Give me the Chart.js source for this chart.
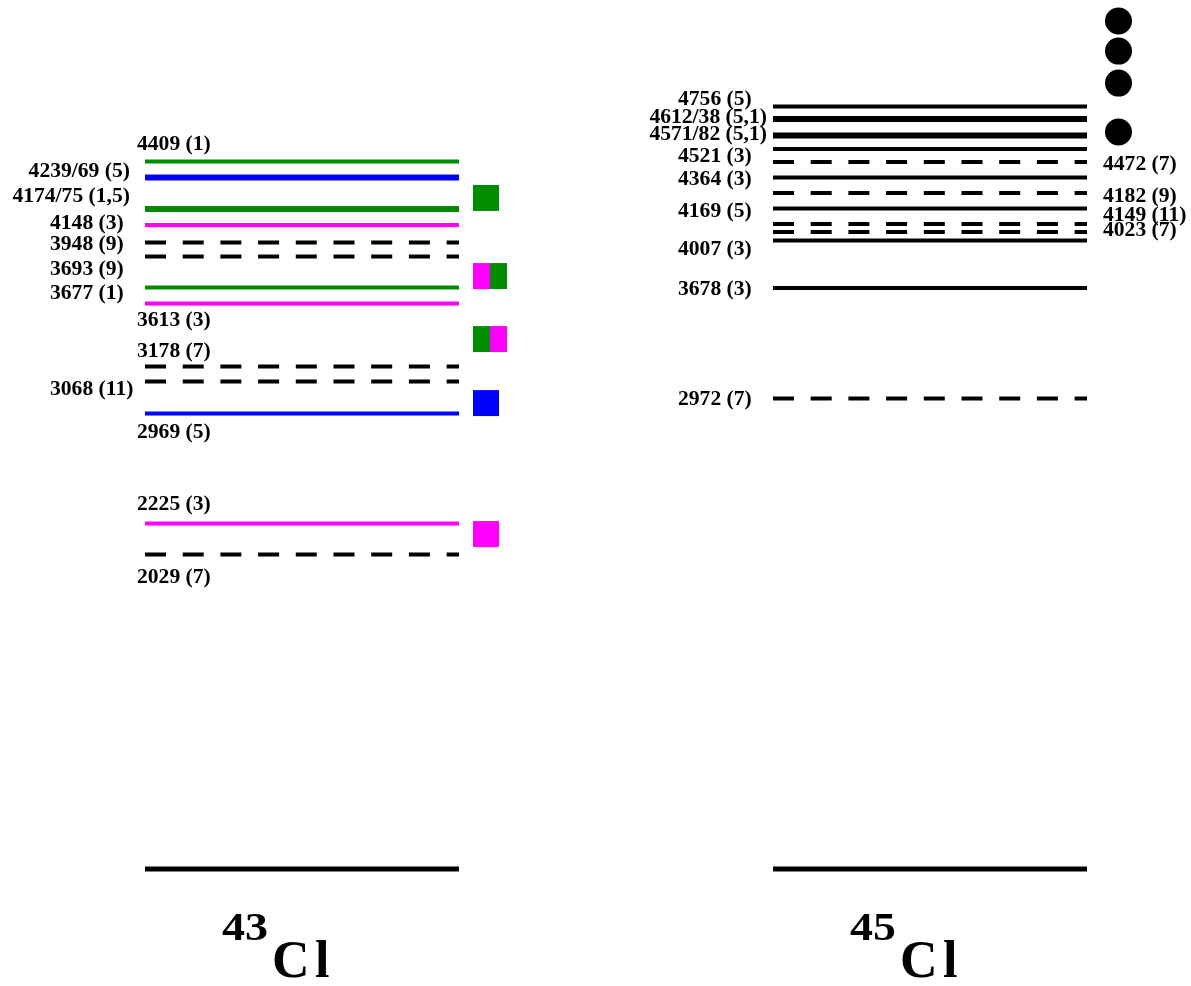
<!DOCTYPE html>
<html>
<head>
<meta charset="utf-8">
<script src="https://cdn.jsdelivr.net/npm/chart.js@4"></script>
<style>
  html, body { margin: 0; padding: 0; background: #fff; }
</style>
</head>
<body>
<canvas id="plots" width="1191" height="986"></canvas>
<script>
// 43Cl levels: label text, energy (keV) where the reference draws each line, line kind
const cl43Text  = ['', '2029 (7)', '2225 (3)', '2969 (5)', '3068 (11)', '3178 (7)', '3613 (3)', '3677 (1)', '3693 (9)', '3948 (9)', '4148 (3)', '4174/75 (1,5)', '4239/69 (5)', '4409 (1)']
const cl43Drawn = [0, 1966, 2159, 2847, 3047, 3141, 3534, 3634, 3828, 3916, 4025, 4125, 4322, 4422]
const cl43Kind  = ['gs', 'dash', 'magenta', 'blue', 'dash', 'dash', 'magenta', 'green', 'dash', 'dash', 'magenta', 'green2', 'blue2', 'green']
const cl43LabelAt = [0, 1831, 2287, 2737, 3006, 3244, 3437, 3606, 3756, 3912, 4044, 4212, 4369, 4537]
const cl43Side  = ['', 'below', 'above', 'below', 'left', 'above', 'below', 'left', 'left', 'left', 'left', 'leftWide', 'leftWide', 'above']

// coloured boxes beside 43Cl
const cl43BoxAt = [4194, 3706, 3312, 2912, 2094]
const cl43BoxColors = [['green'], ['magenta', 'green'], ['green', 'magenta'], ['blue'], ['magenta']]

// 45Cl levels
const cl45Text  = ['', '2972 (7)', '3678 (3)', '4007 (3)', '4023 (7)', '4149 (11)', '4169 (5)', '4182 (9)', '4364 (3)', '4472 (7)', '4521 (3)', '4571/82 (5,1)', '4612/38 (5,1)', '4756 (5)']
const cl45Drawn = [0, 2941, 3631, 3928, 3981, 4031, 4128, 4225, 4322, 4419, 4500, 4584, 4688, 4766]
const cl45Kind  = ['gs', 'dash', 'black', 'black', 'dash', 'dash', 'black', 'dash', 'black', 'dash', 'black', 'black2', 'black2', 'black']
const cl45LabelAt = [0, 2944, 3631, 3881, 4000, 4094, 4119, 4212, 4319, 4412, 4462, 4600, 4706, 4819]
const cl45Side  = ['', 'left', 'left', 'left', 'right', 'right', 'left', 'right', 'left', 'right', 'left', 'leftWide', 'leftWide', 'left']

// dots beside 45Cl
const cl45DotAt = [5300, 5112, 4912, 4606]

const colors = { green: '#008b00', magenta: '#ff00ff', blue: '#0000ff', black: '#000000' }

const kinds = {
  gs:      { color: '#000', width: 5 },
  dash:    { color: '#000', width: 4, dash: [21, 16.7] },
  black:   { color: '#000', width: 4 },
  black2:  { color: '#000', width: 6 },
  green:   { color: colors.green, width: 4 },
  green2:  { color: colors.green, width: 6 },
  magenta: { color: colors.magenta, width: 4 },
  blue2:   { color: colors.blue, width: 6 },
  blue:    { color: colors.blue, width: 4 }
}

// one scheme is one x unit wide
const schemes = [
  { x0: 0, text: cl43Text, drawn: cl43Drawn, kind: cl43Kind, labelAt: cl43LabelAt, side: cl43Side, mass: '43', wideGap: 15 },
  { x0: 2, text: cl45Text, drawn: cl45Drawn, kind: cl45Kind, labelAt: cl45LabelAt, side: cl45Side, mass: '45', wideGap: 6 }
]

function levelSets(s) {
  return s.drawn.map(function (e, i) {
    const k = kinds[s.kind[i]]
    return {
      type: 'line',
      data: [{ x: s.x0, y: e }, { x: s.x0 + 1, y: e }],
      borderColor: k.color,
      borderWidth: k.width,
      borderDash: k.dash || [],
      borderCapStyle: 'butt',
      pointRadius: 0,
      clip: false
    }
  })
}

function boxSets() {
  const start = 1.0446
  const out = []
  cl43BoxAt.forEach(function (e, i) {
    const parts = cl43BoxColors[i]
    const w = parts.length == 1 ? 0.0828 : 0.0542
    parts.forEach(function (c, j) {
      out.push({
        type: 'line',
        data: [{ x: start + j * w, y: e }, { x: start + (j + 1) * w, y: e }],
        borderColor: colors[c],
        borderWidth: 26,
        borderCapStyle: 'butt',
        pointRadius: 0,
        clip: false
      })
    })
  })
  return out
}

const dotSet = {
  type: 'scatter',
  data: cl45DotAt.map(function (e) { return { x: 3.1003, y: e } }),
  pointStyle: 'circle',
  pointRadius: 13.5,
  backgroundColor: '#000',
  borderWidth: 0,
  showLine: false,
  clip: false
}

// draws text a bit wider than the font, like the original
function wideText(ctx, t, x, y, sx) {
  ctx.save()
  ctx.translate(x, y)
  ctx.scale(sx, 1)
  ctx.fillText(t, 0, 0)
  ctx.restore()
}

const levelText = {
  id: 'levelText',
  afterDatasetsDraw(chart) {
    const ctx = chart.ctx
    const xs = chart.scales.x
    const ys = chart.scales.y
    ctx.save()
    ctx.fillStyle = '#000'
    schemes.forEach(function (s) {
      const xa = xs.getPixelForValue(s.x0)
      const xb = xs.getPixelForValue(s.x0 + 1)
      ctx.font = 'bold 20px "Liberation Serif", "Times New Roman", serif'
      ctx.textBaseline = 'middle'
      s.text.forEach(function (t, i) {
        if (!t) return
        const y = ys.getPixelForValue(s.labelAt[i]) + 2
        const side = s.side[i]
        if (side == 'above' || side == 'below') {
          ctx.textAlign = 'left'
          wideText(ctx, t, xa - 8, y, 1.08)
        } else if (side == 'left') {
          ctx.textAlign = 'left'
          wideText(ctx, t, xa - 95, y, 1.08)
        } else if (side == 'leftWide') {
          ctx.textAlign = 'right'
          wideText(ctx, t, xa - s.wideGap, y, 1.08)
        } else {
          ctx.textAlign = 'left'
          wideText(ctx, t, xb + 16, y, 1.08)
        }
      })
      // isotope name under the ground state
      const y0 = ys.getPixelForValue(0)
      ctx.textBaseline = 'alphabetic'
      ctx.textAlign = 'left'
      ctx.font = 'bold 40px "Liberation Serif", "Times New Roman", serif'
      wideText(ctx, s.mass, xa + 77, y0 + 71, 1.15)
      ctx.font = 'bold 52px "Liberation Serif", "Times New Roman", serif'
      ctx.fillText('C', xa + 127, y0 + 108)
      ctx.fillText('l', xa + 170, y0 + 108)
    })
    ctx.restore()
  }
}

let datasets = []
schemes.forEach(function (s) { datasets = datasets.concat(levelSets(s)) })
datasets = datasets.concat(boxSets())
datasets.push(dotSet)

new Chart(document.getElementById('plots'), {
  type: 'line',
  data: { datasets: datasets },
  options: {
    responsive: false,
    animation: false,
    devicePixelRatio: 1,
    layout: { padding: 0, autoPadding: false },
    plugins: { legend: { display: false }, tooltip: { enabled: false } },
    scales: {
      x: { type: 'linear', min: -0.46178, max: 3.33121, display: false },
      y: { type: 'linear', min: -731.25, max: 5431.25, display: false }
    }
  },
  plugins: [levelText]
})
</script>
</body>
</html>
